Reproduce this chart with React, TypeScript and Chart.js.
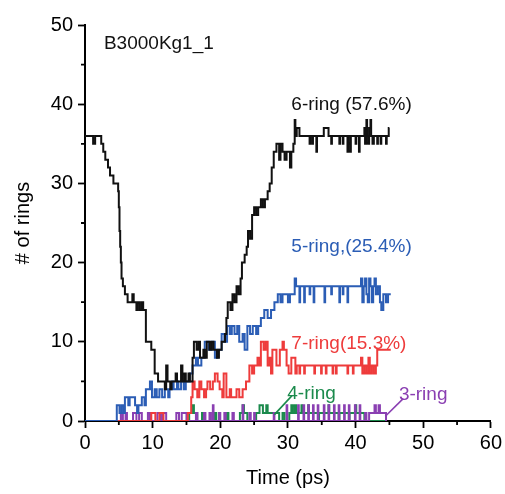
import React, { useEffect, useRef } from "react";
import { Chart, registerables } from "chart.js";

Chart.register(...registerables);

// ---- Data (time in ps, number of rings) ----
const xTicks = [0, 10, 20, 30, 40, 50, 60];
const yTicks = [0, 10, 20, 30, 40, 50];

// 6-ring (black)
const t6 = [0, 1.2, 1.5, 2.4, 2.7, 3.0, 3.4, 3.7, 4.2, 4.9, 5.0, 5.1, 5.2, 5.3, 5.4, 5.6, 5.9, 6.3, 7.0, 7.2, 7.6, 7.8, 8.1, 8.4, 8.6, 9.0, 9.8, 10.3, 10.8, 11.8, 12.0, 12.2, 12.6, 12.8, 13.4, 13.6, 14.2, 14.4, 14.7, 14.9, 15.3, 15.5, 15.9, 16.1, 16.5, 16.8, 17.0, 17.5, 17.7, 18.0, 18.4, 18.7, 19.0, 19.5, 19.8, 20.2, 20.7, 20.9, 21.1, 21.5, 21.8, 22.1, 22.4, 22.7, 23.0, 23.2, 23.6, 23.9, 24.1, 24.4, 24.7, 25.0, 25.3, 25.6, 26.0, 26.3, 26.6, 27.0, 27.3, 27.6, 27.9, 28.3, 28.7, 28.9, 29.2, 29.5, 29.8, 30.3, 30.5, 30.8, 31.0, 31.1, 31.3, 31.7, 33.2, 33.3, 33.6, 33.7, 34.2, 34.3, 35.3, 36.0, 36.4, 36.5, 37.6, 37.7, 38.1, 38.2, 38.8, 38.9, 39.2, 39.3, 40.0, 40.1, 40.5, 40.6, 41.3, 41.4, 41.6, 41.7, 41.9, 42.0, 42.2, 42.3, 42.5, 42.7, 43.2, 43.3, 43.7, 43.8, 44.5, 44.6, 44.9, 45.0];
const v6 = [36, 35, 36, 35, 34, 33, 32, 31, 30, 29, 27, 24, 22, 20, 18, 17, 16, 15, 16, 15, 14, 15, 14, 15, 14, 10, 9, 6, 5, 4, 7, 5, 4, 5, 6, 5, 7, 5, 6, 5, 6, 5, 8, 10, 9, 10, 8, 9, 8, 10, 9, 10, 9, 8, 9, 10, 11, 13, 15, 14, 16, 15, 17, 16, 18, 20, 21, 22, 24, 23, 26, 27, 26, 27, 28, 27, 28, 29, 30, 32, 34, 35, 33, 35, 34, 33, 34, 32, 34, 35, 38, 36, 37, 36, 35, 36, 35, 36, 34, 36, 37, 36, 35, 36, 35, 36, 35, 36, 34, 36, 34, 36, 35, 36, 34, 36, 37, 35, 38, 36, 35, 37, 38, 36, 35, 36, 35, 36, 35, 36, 35, 36, 37, 37];

// 5-ring (blue)
const t5 = [0, 4.7, 5.1, 5.4, 5.7, 5.9, 6.4, 6.6, 7.4, 7.7, 7.9, 8.4, 8.8, 9.0, 9.6, 9.9, 10.3, 10.6, 11.0, 11.4, 11.8, 12.3, 12.5, 12.9, 13.1, 13.6, 13.8, 14.2, 14.6, 14.9, 15.5, 15.9, 16.4, 16.7, 17.2, 17.7, 18.3, 18.7, 19.2, 19.6, 20.2, 20.6, 21.0, 21.4, 21.7, 22.1, 22.5, 22.8, 23.3, 23.6, 24.0, 24.4, 24.8, 25.3, 25.6, 26.0, 26.5, 27.0, 27.5, 28.0, 28.5, 28.9, 29.2, 30.0, 30.3, 31.0, 31.2, 31.7, 31.8, 32.4, 32.5, 33.2, 33.3, 33.8, 33.9, 35.4, 35.5, 36.4, 36.5, 37.6, 37.7, 38.1, 38.2, 38.8, 38.9, 40.8, 41.0, 41.2, 41.4, 41.6, 41.8, 42.0, 42.2, 42.4, 42.6, 42.8, 43.0, 43.3, 43.6, 43.8, 44.1, 44.5, 44.8, 45.2];
const v5 = [0, 2, 1, 2, 1, 3, 2, 3, 2, 1, 2, 3, 2, 4, 5, 3, 4, 3, 4, 3, 4, 3, 4, 5, 4, 5, 4, 5, 4, 5, 6, 7, 8, 7, 8, 10, 9, 10, 8, 9, 11, 10, 12, 11, 12, 11, 12, 10, 11, 9, 12, 11, 12, 11, 12, 13, 14, 13, 14, 15, 16, 15, 16, 15, 16, 18, 17, 15, 17, 15, 17, 16, 17, 15, 17, 15, 17, 16, 17, 15, 17, 16, 17, 15, 17, 18, 15, 17, 18, 16, 15, 18, 17, 15, 17, 18, 16, 17, 15, 14, 16, 15, 16, 16];

// 7-ring (red)
const t7 = [0, 9.8, 10.4, 11.0, 11.6, 15.2, 15.7, 15.9, 16.2, 16.6, 16.9, 17.2, 17.6, 17.9, 18.1, 18.5, 18.9, 19.2, 19.6, 19.9, 20.3, 20.5, 20.9, 21.4, 21.6, 22.4, 22.8, 23.3, 23.8, 24.3, 24.7, 25.0, 25.5, 25.8, 26.0, 26.4, 26.7, 27.0, 27.3, 27.5, 27.7, 28.3, 28.8, 29.2, 29.4, 29.8, 30.1, 30.5, 31.1, 31.3, 31.7, 31.8, 32.4, 32.5, 33.9, 34.0, 34.9, 35.0, 35.6, 35.7, 36.6, 36.7, 37.1, 37.2, 38.8, 38.9, 39.6, 39.7, 40.8, 41.0, 41.3, 41.6, 41.9, 42.1, 42.4, 42.7, 43.0, 43.2, 45.2];
const v7 = [0, 1, 0, 1, 0, 1, 3, 5, 4, 3, 5, 4, 3, 4, 5, 4, 5, 6, 5, 4, 3, 6, 3, 4, 3, 4, 3, 4, 5, 7, 6, 7, 8, 7, 10, 9, 10, 7, 8, 6, 9, 7, 9, 10, 9, 7, 6, 8, 6, 7, 6, 7, 6, 7, 6, 7, 6, 7, 6, 7, 6, 7, 6, 7, 6, 7, 6, 7, 8, 6, 7, 6, 8, 6, 7, 6, 7, 9, 9];

// 4-ring (green)
const t4 = [15.0, 15.4, 15.8, 16.1, 16.6, 17.3, 17.5, 19.2, 19.4, 21.0, 21.2, 22.9, 23.3, 23.5, 24.0, 25.3, 25.8, 26.3, 26.8, 27.0, 28.7, 29.2, 29.5, 30.2, 30.5, 30.7, 31.0, 31.2, 32.0, 32.1, 33.0, 33.1, 34.5, 34.6, 36.0, 36.1, 37.5, 37.6, 39.0, 39.1, 40.0, 40.1, 41.3, 44.5];
const v4 = [0, 1, 2, 1, 0, 1, 0, 1, 0, 1, 0, 1, 2, 1, 0, 1, 2, 1, 2, 1, 0, 1, 0, 1, 2, 1, 2, 1, 2, 1, 2, 1, 0, 1, 2, 1, 0, 1, 0, 1, 2, 1, 0, 0];

// 3-ring (purple)
const t3 = [5.0, 5.3, 5.6, 6.0, 6.2, 7.1, 7.6, 8.0, 8.4, 9.3, 9.6, 10.7, 11.2, 11.5, 12.0, 13.5, 13.9, 14.3, 15.0, 16.4, 16.6, 17.6, 17.8, 18.4, 18.6, 18.9, 19.0, 19.8, 20.0, 20.6, 20.8, 21.8, 22.0, 23.3, 23.4, 24.3, 24.5, 25.0, 25.1, 27.9, 28.0, 29.8, 29.9, 31.5, 31.6, 32.3, 32.4, 33.0, 33.1, 33.7, 33.8, 34.4, 34.5, 35.3, 35.4, 36.0, 36.1, 36.8, 36.9, 37.5, 37.6, 38.3, 38.4, 39.0, 39.1, 39.9, 40.0, 40.6, 40.7, 41.4, 41.6, 42.0, 42.8, 43.0, 43.4, 43.6, 44.5];
const v3 = [0, 1, 0, 1, 0, 1, 0, 1, 0, 1, 0, 1, 0, 1, 0, 1, 0, 1, 0, 1, 0, 1, 0, 1, 0, 2, 0, 1, 0, 1, 0, 1, 0, 2, 0, 1, 0, 1, 0, 1, 0, 2, 0, 2, 0, 2, 0, 2, 0, 2, 0, 2, 0, 2, 0, 2, 0, 2, 0, 2, 0, 2, 0, 2, 0, 2, 0, 2, 0, 1, 0, 1, 2, 1, 2, 1, 0];

const BLACK = "#111111";
const BLUE = "#2b5db5";
const RED = "#ee3b3b";
const GREEN = "#1b8a4c";
const PURPLE = "#8a3fb2";

// Text annotations (data coordinates, left edge / vertical centre)
const noteTexts = ["B3000Kg1_1", "6-ring (57.6%)", "5-ring,(25.4%)", "7-ring(15.3%)", "4-ring", "3-ring"];
const noteX = [2.8, 30.5, 30.5, 30.5, 29.9, 46.4];
const noteY = [47.6, 39.9, 22.0, 9.8, 3.4, 3.3];
const noteColors = [BLACK, BLACK, BLUE, RED, GREEN, PURPLE];

// Leader lines
const leaderFrom = [{ x: 28.0, y: 0.8 }, { x: 44.4, y: 0.6 }];
const leaderTo = [{ x: 30.6, y: 3.2 }, { x: 47.0, y: 2.8 }];
const leaderColors = [GREEN, PURPLE];

const FONT = "'Liberation Sans', Arial, sans-serif";

function pts(t: number[], v: number[]) {
  return t.map((x, i) => ({ x, y: v[i] }));
}

export default function App() {
  const ref = useRef<HTMLCanvasElement | null>(null);

  useEffect(() => {
    if (!ref.current) return;

    const minorTicks = {
      id: "minorTicks",
      afterDraw(chart: any) {
        const { ctx, chartArea } = chart;
        const xs = chart.scales.x;
        const ys = chart.scales.y;
        ctx.save();
        ctx.strokeStyle = "#000";
        ctx.lineWidth = 1.8;
        ctx.beginPath();
        for (let i = 0; i < xTicks.length - 1; i++) {
          const px = xs.getPixelForValue((xTicks[i] + xTicks[i + 1]) / 2);
          ctx.moveTo(px, chartArea.bottom);
          ctx.lineTo(px, chartArea.bottom + 4);
        }
        for (let i = 0; i < yTicks.length - 1; i++) {
          const py = ys.getPixelForValue((yTicks[i] + yTicks[i + 1]) / 2);
          ctx.moveTo(chartArea.left, py);
          ctx.lineTo(chartArea.left - 4, py);
        }
        ctx.stroke();
        ctx.restore();
      },
    };

    const notes = {
      id: "notes",
      afterDatasetsDraw(chart: any) {
        const { ctx } = chart;
        const xs = chart.scales.x;
        const ys = chart.scales.y;
        ctx.save();
        ctx.font = `19px ${FONT}`;
        ctx.textAlign = "left";
        ctx.textBaseline = "middle";
        noteTexts.forEach((txt, i) => {
          ctx.fillStyle = noteColors[i];
          ctx.fillText(txt, xs.getPixelForValue(noteX[i]), ys.getPixelForValue(noteY[i]));
        });
        ctx.lineWidth = 1.6;
        leaderFrom.forEach((p, i) => {
          ctx.strokeStyle = leaderColors[i];
          ctx.beginPath();
          ctx.moveTo(xs.getPixelForValue(p.x), ys.getPixelForValue(p.y));
          ctx.lineTo(xs.getPixelForValue(leaderTo[i].x), ys.getPixelForValue(leaderTo[i].y));
          ctx.stroke();
        });
        ctx.restore();
      },
    };

    const mk = (label: string, t: number[], v: number[], color: string) => ({
      label,
      data: pts(t, v),
      borderColor: color,
      backgroundColor: color,
      borderWidth: 2,
      pointRadius: 0,
      stepped: true,
      fill: false,
    });

    const chart = new Chart(ref.current, {
      type: "line",
      data: {
        datasets: [
          mk("6-ring", t6, v6, BLACK),
          mk("5-ring", t5, v5, BLUE),
          mk("7-ring", t7, v7, RED),
          mk("3-ring", t3, v3, PURPLE),
          mk("4-ring", t4, v4, GREEN),
        ],
      },
      options: {
        responsive: false,
        animation: false,
        devicePixelRatio: 1,
        layout: { padding: { top: 25, right: 13, left: 0, bottom: 0 } },
        plugins: {
          legend: { display: false },
          tooltip: { enabled: false },
          title: { display: false },
        },
        scales: {
          x: {
            type: "linear",
            min: 0,
            max: 60,
            afterBuildTicks: (scale: any) => {
              scale.ticks = xTicks.map((v) => ({ value: v }));
            },
            afterFit: (scale: any) => {
              scale.height = 73;
            },
            ticks: {
              color: "#000",
              font: { size: 20, family: FONT },
              padding: 3,
              maxRotation: 0,
            },
            grid: {
              drawOnChartArea: false,
              drawTicks: true,
              tickLength: 7,
              tickColor: "#000",
              tickWidth: 1.8,
            },
            border: { display: true, color: "#000", width: 2 },
            title: {
              display: true,
              text: "Time (ps)",
              color: "#000",
              font: { size: 20, family: FONT },
              padding: { top: 0, bottom: 4 },
            },
          },
          y: {
            type: "linear",
            min: 0,
            max: 50,
            afterBuildTicks: (scale: any) => {
              scale.ticks = yTicks.map((v) => ({ value: v }));
            },
            afterFit: (scale: any) => {
              scale.width = 85;
            },
            ticks: {
              color: "#000",
              font: { size: 20, family: FONT },
              padding: 5,
            },
            grid: {
              drawOnChartArea: false,
              drawTicks: true,
              tickLength: 7,
              tickColor: "#000",
              tickWidth: 1.8,
            },
            border: { display: true, color: "#000", width: 2 },
            title: {
              display: true,
              text: "# of rings",
              color: "#000",
              font: { size: 20, family: FONT },
              padding: { top: 11, bottom: 0 },
            },
          },
        },
      },
      plugins: [minorTicks, notes],
    } as any);

    return () => chart.destroy();
  }, []);

  return (
    <div style={{ position: "absolute", left: 0, top: 0, width: 505, height: 494, background: "#fff" }}>
      <canvas ref={ref} width={505} height={494} style={{ display: "block", width: 505, height: 494 }} />
    </div>
  );
}
